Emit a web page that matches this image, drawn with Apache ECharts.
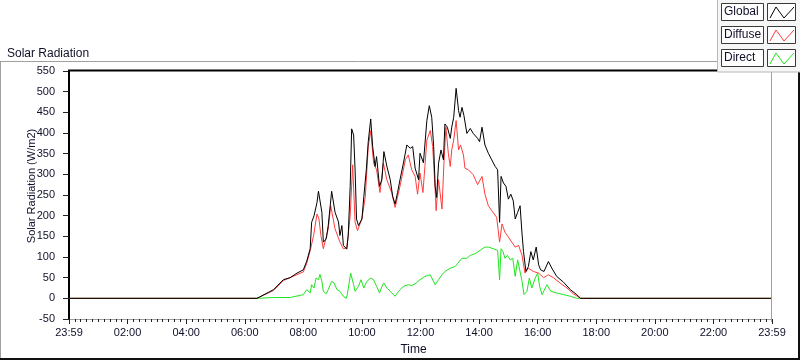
<!DOCTYPE html>
<html>
<head>
<meta charset="utf-8">
<script src="https://cdn.jsdelivr.net/npm/echarts@6/dist/echarts.min.js"></script>
<style>
  html, body { margin: 0; padding: 0; background: #fff; }
  #chart { width: 800px; height: 361px; }
</style>
</head>
<body>
<div id="chart"></div>
<script>
// [minute of day, W/m2]
const globalData = [
  [0, 0], [384, 0], [418, 21], [438, 45], [452, 50], [466, 61], [479, 69], [486, 90],
  [493, 120], [496, 184], [501, 200], [507, 232], [510, 259], [513, 255], [517, 208],
  [520, 136], [526, 144], [530, 176], [537, 259], [544, 208], [551, 185], [554, 152],
  [558, 176], [561, 128], [568, 119], [571, 152], [575, 271], [578, 410], [582, 395],
  [585, 311], [588, 192], [592, 176], [599, 192], [603, 247], [608, 311], [612, 379],
  [617, 434], [621, 367], [626, 319], [629, 343], [635, 271], [640, 287], [644, 355],
  [650, 320], [657, 287], [662, 247], [667, 228], [672, 256], [677, 287], [684, 327],
  [691, 371], [698, 363], [703, 367], [708, 315], [715, 287], [718, 351], [725, 328],
  [732, 430], [737, 466], [742, 438], [746, 367], [749, 271], [752, 244], [756, 327],
  [761, 359], [766, 335], [769, 422], [774, 414], [780, 387], [783, 414], [787, 438],
  [792, 508], [797, 454], [800, 438], [804, 462], [808, 442], [814, 399], [821, 411],
  [827, 399], [836, 387], [840, 379], [845, 414], [851, 371], [858, 351], [865, 335],
  [872, 319], [877, 311], [881, 184], [884, 295], [889, 279], [894, 271], [899, 240],
  [904, 252], [909, 236], [913, 192], [918, 208], [923, 224], [927, 156], [930, 113],
  [935, 65], [940, 77], [945, 113], [950, 93], [956, 124], [961, 81], [965, 69],
  [972, 65], [981, 89], [988, 73], [998, 53], [1012, 39], [1026, 21], [1039, 9],
  [1047, 0], [1439, 0]
];
const diffuseData = [
  [0, 0], [55, 0], [56, 3], [57, 0], [384, 0], [418, 19], [438, 43], [479, 64], [486, 85],
  [493, 115], [500, 152], [507, 204], [511, 192], [515, 152], [520, 120], [530, 168],
  [535, 224], [544, 168], [554, 136], [561, 120], [568, 122], [575, 200], [580, 323],
  [585, 184], [590, 164], [599, 192], [606, 247], [612, 367], [617, 406], [623, 327],
  [629, 311], [636, 256], [643, 327], [650, 287], [660, 256], [667, 220], [677, 271],
  [688, 335], [694, 347], [701, 311], [708, 295], [713, 252], [718, 303], [724, 256],
  [728, 319], [732, 383], [739, 406], [744, 367], [749, 263], [751, 212], [756, 287],
  [763, 216], [767, 327], [771, 414], [776, 351], [780, 319], [783, 359], [787, 383],
  [792, 430], [797, 359], [801, 371], [807, 347], [810, 315], [817, 311], [827, 299],
  [836, 275], [845, 295], [851, 252], [858, 224], [865, 212], [875, 196], [881, 136],
  [886, 180], [892, 160], [899, 148], [906, 136], [913, 124], [920, 128], [927, 104],
  [933, 61], [940, 73], [950, 65], [961, 61], [971, 50], [981, 57], [991, 50],
  [1005, 37], [1019, 25], [1032, 11], [1047, 0], [1175, 0], [1176, 3], [1177, 0], [1439, 0]
];
const directData = [
  [0, 0], [384, 0], [418, 2], [452, 2], [479, 9], [486, 21], [493, 13], [496, 33],
  [501, 25], [505, 49], [510, 45], [513, 58], [517, 41], [520, 17], [526, 11], [530, 21],
  [537, 41], [542, 37], [548, 21], [554, 17], [561, 5], [567, 0], [569, 9], [576, 61],
  [582, 33], [585, 17], [592, 29], [597, 45], [603, 25], [609, 41], [617, 49], [623, 45],
  [629, 29], [635, 13], [640, 29], [644, 37], [650, 25], [657, 17], [667, 5], [674, 17],
  [684, 29], [694, 33], [701, 31], [710, 37], [718, 45], [728, 53], [739, 57], [749, 33],
  [756, 45], [763, 57], [769, 65], [780, 73], [790, 77], [804, 97], [814, 97], [821, 104],
  [831, 108], [841, 116], [851, 124], [858, 124], [868, 120], [877, 116], [881, 45],
  [884, 120], [888, 113], [892, 97], [897, 104], [903, 93], [908, 97], [913, 53],
  [918, 93], [922, 97], [927, 41], [931, 9], [937, 17], [942, 49], [947, 25], [954, 49],
  [959, 61], [963, 29], [968, 9], [972, 5], [978, 33], [986, 17], [998, 13], [1012, 9],
  [1026, 5], [1039, 0], [1439, 0]
];
const seriesNames = ['Global', 'Diffuse', 'Direct'];
const seriesColors = ['#000000', '#ff3c3c', '#1ee61e'];

// axis starts at 23:59 of the day before
const shift = p => [p[0] + 1, p[1]];

const chart = echarts.init(document.getElementById('chart'), null, { renderer: 'canvas' });
const font = 'Liberation Sans, Arial, sans-serif';
const textColor = '#10102a';

const legendItems = [];
seriesNames.forEach((name, i) => {
  const top = 3.5 + i * 23;
  legendItems.push(
    { type: 'rect', z: 20, shape: { x: 721.5, y: top, width: 42, height: 17 },
      style: { fill: '#fff', stroke: '#3a3a3a', lineWidth: 1 } },
    { type: 'text', z: 21, x: 724, y: top + 8.5,
      style: { text: name, font: '12px ' + font, fill: textColor, verticalAlign: 'middle' } },
    { type: 'rect', z: 20, shape: { x: 767.5, y: top, width: 28, height: 17 },
      style: { fill: '#fff', stroke: '#3a3a3a', lineWidth: 1 } },
    { type: 'polyline', z: 21,
      shape: { points: [[770, top + 14.5], [776, top + 3.5], [784, top + 14.5], [794, top + 3.5]] },
      style: { stroke: seriesColors[i], lineWidth: 1, fill: null } }
  );
});

chart.setOption({
  animation: false,
  backgroundColor: '#fff',
  title: {
    text: 'Solar Radiation',
    left: 2,
    top: 43,
    textStyle: { fontFamily: font, fontSize: 12, fontWeight: 'normal', color: textColor }
  },
  grid: { left: 69, right: 28, top: 71, bottom: 39 },
  xAxis: {
    type: 'value',
    min: 0,
    max: 1440,
    interval: 120,
    name: 'Time',
    nameLocation: 'middle',
    nameGap: 25,
    nameMoveOverlap: false,
    nameTextStyle: { fontFamily: font, fontSize: 12, color: textColor, padding: [0, 14, 0, 0] },
    axisLine: { onZero: false, lineStyle: { color: '#a0a0a0', width: 1 } },
    axisTick: { length: 5, lineStyle: { color: '#222' } },
    minorTick: { show: true, splitNumber: 10, length: 3, lineStyle: { color: '#222' } },
    splitLine: { show: false },
    axisLabel: {
      margin: 8,
      fontFamily: font,
      fontSize: 11,
      color: textColor,
      showMinLabel: true,
      showMaxLabel: true,
      formatter: v => {
        if (v <= 0 || v >= 1440) return '23:59';
        const h = Math.round((v - 1) / 60);
        return (h < 10 ? '0' : '') + h + ':00';
      }
    }
  },
  yAxis: {
    type: 'value',
    min: -50,
    max: 550,
    interval: 50,
    name: 'Solar Radiation (W/m2)',
    nameLocation: 'middle',
    nameGap: 32,
    nameMoveOverlap: false,
    nameTextStyle: { fontFamily: font, fontSize: 11, color: textColor, padding: [0, 0, 0, 18] },
    axisLine: { show: true, onZero: false, lineStyle: { color: '#000', width: 2 } },
    axisTick: { show: true, length: 6, lineStyle: { color: '#222' } },
    splitLine: { show: false },
    axisLabel: { margin: 14, fontFamily: font, fontSize: 11, color: textColor }
  },
  series: [
    { name: 'Direct', type: 'line', data: directData.map(shift), showSymbol: false,
      lineStyle: { color: seriesColors[2], width: 1 }, z: 2 },
    { name: 'Diffuse', type: 'line', data: diffuseData.map(shift), showSymbol: false,
      lineStyle: { color: seriesColors[1], width: 1 }, z: 3 },
    { name: 'Global', type: 'line', data: globalData.map(shift), showSymbol: false,
      lineStyle: { color: seriesColors[0], width: 1 }, z: 4 }
  ],
  graphic: [
    // outer frame
    { type: 'line', z: 5, shape: { x1: 0, y1: 61.5, x2: 717, y2: 61.5 }, style: { stroke: '#a0a0a0', lineWidth: 1 } },
    { type: 'line', z: 5, shape: { x1: 0.5, y1: 61, x2: 0.5, y2: 359 }, style: { stroke: '#a0a0a0', lineWidth: 1 } },
    { type: 'line', z: 5, shape: { x1: 0, y1: 359, x2: 800, y2: 359 }, style: { stroke: '#111', lineWidth: 2 } },
    { type: 'line', z: 5, shape: { x1: 799, y1: 72, x2: 799, y2: 360 }, style: { stroke: '#111', lineWidth: 2 } },
    // plot border top and right
    { type: 'line', z: 5, shape: { x1: 68, y1: 70.5, x2: 717, y2: 70.5 }, style: { stroke: '#000', lineWidth: 2 } },
    { type: 'line', z: 5, shape: { x1: 771.5, y1: 71, x2: 771.5, y2: 322 }, style: { stroke: '#a0a0a0', lineWidth: 1 } },
    // legend panel
    { type: 'rect', z: 15, shape: { x: 717.5, y: -1, width: 84, height: 73 },
      style: { fill: '#f6f6f6', stroke: '#b8b8b8', lineWidth: 1 } }
  ].concat(legendItems)
});
</script>
</body>
</html>
